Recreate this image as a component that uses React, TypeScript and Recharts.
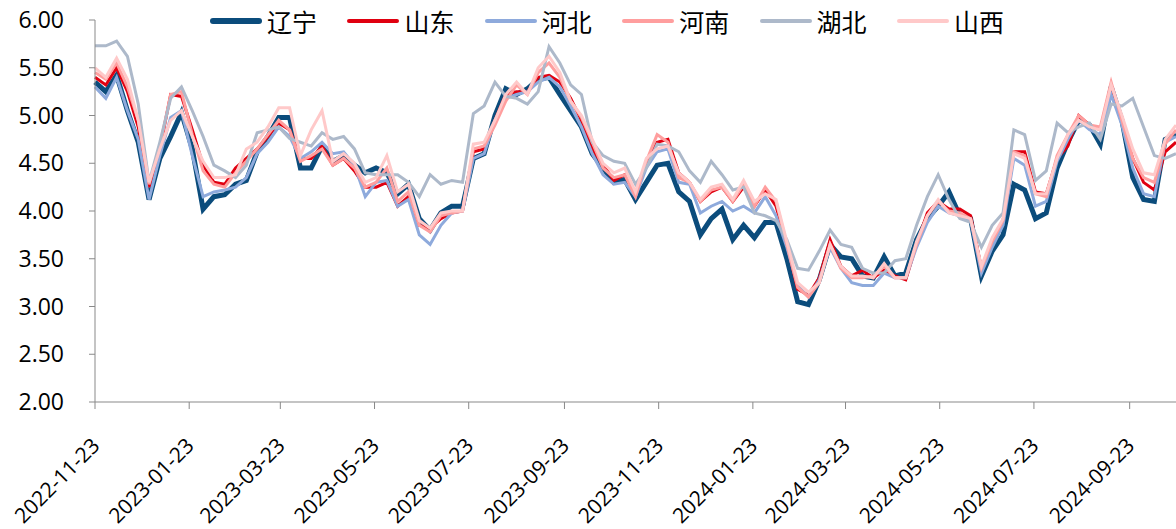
import { LineChart, Line, XAxis, YAxis } from 'recharts'

// weekly samples starting 2022-11-23
const START = '2022-11-23'
const tickDates = [
  '2022-11-23', '2023-01-23', '2023-03-23', '2023-05-23', '2023-07-23', '2023-09-23',
  '2023-11-23', '2024-01-23', '2024-03-23', '2024-05-23', '2024-07-23', '2024-09-23',
]
const yTicks = [2, 2.5, 3, 3.5, 4, 4.5, 5, 5.5, 6]

const liaoning = [
  5.35, 5.25, 5.42, 5.05, 4.72, 4.12, 4.55, 4.78, 5.03, 4.65, 4.02, 4.15, 4.17, 4.28, 4.32, 4.62, 4.78, 4.98, 4.98, 4.45,
  4.45, 4.68, 4.52, 4.58, 4.48, 4.40, 4.45, 4.40, 4.18, 4.28, 3.92, 3.80, 3.98, 4.05, 4.05, 4.55, 4.60, 5.00, 5.28, 5.22,
  5.28, 5.38, 5.40, 5.22, 5.05, 4.88, 4.60, 4.45, 4.30, 4.33, 4.12, 4.30, 4.48, 4.50, 4.20, 4.10, 3.75, 3.92, 4.02, 3.70,
  3.85, 3.72, 3.88, 3.88, 3.50, 3.05, 3.02, 3.28, 3.65, 3.52, 3.50, 3.32, 3.30, 3.52, 3.32, 3.35, 3.70, 3.92, 4.05, 4.20,
  3.95, 3.92, 3.32, 3.58, 3.75, 4.28, 4.22, 3.92, 3.98, 4.45, 4.72, 4.95, 4.90, 4.70, 5.30, 4.95, 4.35, 4.12, 4.10, 4.75,
  4.80,
]
const shandong = [
  5.40, 5.32, 5.50, 5.25, 4.88, 4.25, 4.65, 5.22, 5.20, 4.85, 4.48, 4.30, 4.28, 4.45, 4.55, 4.65, 4.78, 4.92, 4.85, 4.55,
  4.55, 4.68, 4.48, 4.55, 4.42, 4.25, 4.25, 4.30, 4.05, 4.15, 3.85, 3.82, 3.92, 3.98, 4.00, 4.62, 4.65, 4.95, 5.22, 5.25,
  5.25, 5.40, 5.42, 5.35, 5.18, 4.95, 4.65, 4.48, 4.32, 4.38, 4.18, 4.50, 4.72, 4.75, 4.40, 4.30, 4.10, 4.20, 4.25, 4.10,
  4.25, 4.05, 4.22, 4.05, 3.65, 3.18, 3.12, 3.30, 3.70, 3.42, 3.32, 3.38, 3.30, 3.38, 3.32, 3.28, 3.65, 3.98, 4.10, 4.02,
  4.02, 3.95, 3.40, 3.65, 3.90, 4.62, 4.62, 4.20, 4.18, 4.55, 4.68, 5.00, 4.90, 4.85, 5.32, 4.92, 4.55, 4.30, 4.22, 4.62,
  4.72,
]
const hebei = [
  5.30, 5.18, 5.40, 5.05, 4.75, 4.12, 4.58, 4.98, 5.05, 4.58, 4.15, 4.20, 4.22, 4.25, 4.35, 4.60, 4.72, 4.88, 4.78, 4.55,
  4.62, 4.72, 4.60, 4.62, 4.48, 4.15, 4.30, 4.32, 4.05, 4.12, 3.75, 3.65, 3.85, 3.98, 4.00, 4.55, 4.60, 4.95, 5.18, 5.22,
  5.25, 5.35, 5.40, 5.30, 5.10, 4.88, 4.60, 4.38, 4.28, 4.30, 4.15, 4.45, 4.62, 4.65, 4.30, 4.28, 3.98, 4.05, 4.10, 4.00,
  4.05, 3.98, 4.15, 3.95, 3.62, 3.22, 3.10, 3.28, 3.62, 3.40, 3.25, 3.22, 3.22, 3.35, 3.30, 3.30, 3.62, 3.88, 4.05, 3.98,
  3.95, 3.90, 3.35, 3.62, 3.85, 4.55, 4.48, 4.05, 4.10, 4.52, 4.75, 4.95, 4.85, 4.80, 5.22, 4.90, 4.45, 4.18, 4.15, 4.72,
  4.78,
]
const henan = [
  5.45, 5.38, 5.55, 5.30, 4.95, 4.28, 4.68, 5.22, 5.25, 4.80, 4.42, 4.28, 4.25, 4.40, 4.52, 4.65, 4.80, 4.95, 4.85, 4.52,
  4.58, 4.65, 4.48, 4.55, 4.45, 4.25, 4.30, 4.45, 4.10, 4.20, 3.85, 3.78, 3.95, 3.98, 4.00, 4.65, 4.68, 4.90, 5.15, 5.32,
  5.22, 5.45, 5.55, 5.40, 5.15, 4.98, 4.72, 4.45, 4.35, 4.38, 4.15, 4.52, 4.80, 4.72, 4.35, 4.30, 4.10, 4.22, 4.25, 4.10,
  4.28, 4.05, 4.25, 4.10, 3.65, 3.20, 3.10, 3.25, 3.65, 3.40, 3.30, 3.30, 3.32, 3.42, 3.30, 3.30, 3.65, 3.95, 4.10, 4.00,
  3.98, 3.92, 3.40, 3.68, 3.90, 4.62, 4.58, 4.18, 4.15, 4.58, 4.80, 5.00, 4.90, 4.88, 5.35, 4.95, 4.55, 4.35, 4.30, 4.70,
  4.85,
]
const hubei = [
  5.73, 5.73, 5.78, 5.62, 5.12, 4.30, 4.72, 5.18, 5.30, 5.05, 4.78, 4.48, 4.42, 4.35, 4.48, 4.82, 4.85, 4.88, 4.76, 4.72,
  4.68, 4.82, 4.75, 4.78, 4.65, 4.40, 4.38, 4.38, 4.38, 4.30, 4.15, 4.38, 4.28, 4.32, 4.30, 5.02, 5.10, 5.35, 5.20, 5.18,
  5.12, 5.25, 5.72, 5.55, 5.32, 5.22, 4.72, 4.58, 4.52, 4.50, 4.28, 4.45, 4.70, 4.68, 4.62, 4.42, 4.30, 4.52, 4.38, 4.22,
  4.25, 3.98, 3.95, 3.90, 3.70, 3.40, 3.38, 3.58, 3.80, 3.65, 3.62, 3.40, 3.35, 3.35, 3.48, 3.50, 3.85, 4.15, 4.38, 4.12,
  3.92, 3.88, 3.62, 3.85, 3.98, 4.85, 4.80, 4.32, 4.42, 4.92, 4.82, 4.88, 4.92, 4.75, 5.12, 5.10, 5.18, 4.88, 4.58, 4.55,
  4.60,
]
const shanxi = [
  5.50, 5.40, 5.60, 5.38, 4.95, 4.30, 4.65, 4.95, 5.05, 4.78, 4.52, 4.35, 4.35, 4.38, 4.65, 4.72, 4.88, 5.08, 5.08, 4.58,
  4.85, 5.05, 4.52, 4.60, 4.50, 4.30, 4.35, 4.58, 4.20, 4.28, 3.90, 3.82, 3.98, 4.00, 4.00, 4.70, 4.72, 4.95, 5.22, 5.35,
  5.22, 5.50, 5.62, 5.45, 5.15, 5.00, 4.75, 4.50, 4.40, 4.45, 4.20, 4.55, 4.65, 4.68, 4.40, 4.30, 4.12, 4.25, 4.28, 4.12,
  4.32, 4.10, 4.18, 4.12, 3.68, 3.25, 3.15, 3.25, 3.65, 3.42, 3.32, 3.32, 3.30, 3.45, 3.30, 3.30, 3.68, 3.95, 4.12, 3.98,
  3.95, 3.92, 3.42, 3.72, 3.92, 4.60, 4.55, 4.18, 4.18, 4.55, 4.80, 4.95, 4.88, 4.85, 5.32, 5.00, 4.65, 4.40, 4.38, 4.75,
  4.90,
]

const SERIES = [
  { name: '辽宁', values: liaoning, color: '#0b4c7c', width: 5 },
  { name: '山东', values: shandong, color: '#e00010', width: 3 },
  { name: '河北', values: hebei, color: '#8eaadc', width: 3 },
  { name: '河南', values: henan, color: '#ff9e9e', width: 3 },
  { name: '湖北', values: hubei, color: '#adb9ca', width: 3 },
  { name: '山西', values: shanxi, color: '#ffc9c9', width: 3 },
]

const DAY = 86400000
const t0 = Date.parse(START)
const dayOf = (s: string) => Math.round((Date.parse(s) - t0) / DAY)

const data = liaoning.map((_, i) => {
  const row: Record<string, number> = { day: i * 7 }
  SERIES.forEach((s) => {
    row[s.name] = s.values[i]
  })
  return row
})

const xTicks = tickDates.map(dayOf)
const labelOf = (d: number) => tickDates[xTicks.indexOf(d)] ?? ''

const AXIS = '#898989'
const NUM_FONT = '"Open Sans", "DejaVu Sans", sans-serif'

function XTick({ x, y, payload }: any) {
  const ax = x + 6
  const ay = y + 36
  return (
    <text
      x={ax}
      y={ay}
      transform={`rotate(-45 ${ax} ${ay})`}
      textAnchor="end"
      fontSize={21}
      fontFamily={NUM_FONT}
      fill="#000"
    >
      {labelOf(payload.value)}
    </text>
  )
}

function LegendBar() {
  return (
    <div style={{ position: 'absolute', left: 0, top: 0, width: 1176, height: 44 }}>
      {SERIES.map((s, i) => {
        const left = 210 + i * 137.4
        return (
          <div key={s.name} style={{ position: 'absolute', left, top: 6, height: 30, display: 'flex', alignItems: 'center' }}>
            <div style={{ width: 52, height: s.width + 1, background: s.color, borderRadius: 3 }} />
            <span
              style={{
                marginLeft: 5,
                fontSize: 25,
                lineHeight: '30px',
                fontFamily: '"Noto Sans CJK SC", sans-serif',
                color: '#000',
              }}
            >
              {s.name}
            </span>
          </div>
        )
      })}
    </div>
  )
}

export default function App() {
  return (
    <div style={{ position: 'absolute', left: 0, top: 0, width: 1176, height: 529, background: '#fff' }}>
      <LineChart width={1176} height={529} data={data} margin={{ top: 20, right: 0, left: 0, bottom: 0 }}>
        <XAxis
          dataKey="day"
          type="number"
          domain={[0, 700]}
          ticks={xTicks}
          interval={0}
          height={127}
          stroke={AXIS}
          tickSize={7}
          tick={<XTick />}
        />
        <YAxis
          type="number"
          domain={[2, 6]}
          ticks={yTicks}
          interval={0}
          width={95}
          stroke={AXIS}
          tickSize={6}
          tickMargin={25}
          tickFormatter={(v: number) => v.toFixed(2)}
          tick={{ fill: '#000', fontSize: 23, fontFamily: NUM_FONT }}
        />
        {SERIES.map((s) => (
          <Line
            key={s.name}
            type="linear"
            dataKey={s.name}
            stroke={s.color}
            strokeWidth={s.width}
            dot={false}
            isAnimationActive={false}
          />
        ))}
      </LineChart>
      <LegendBar />
    </div>
  )
}
